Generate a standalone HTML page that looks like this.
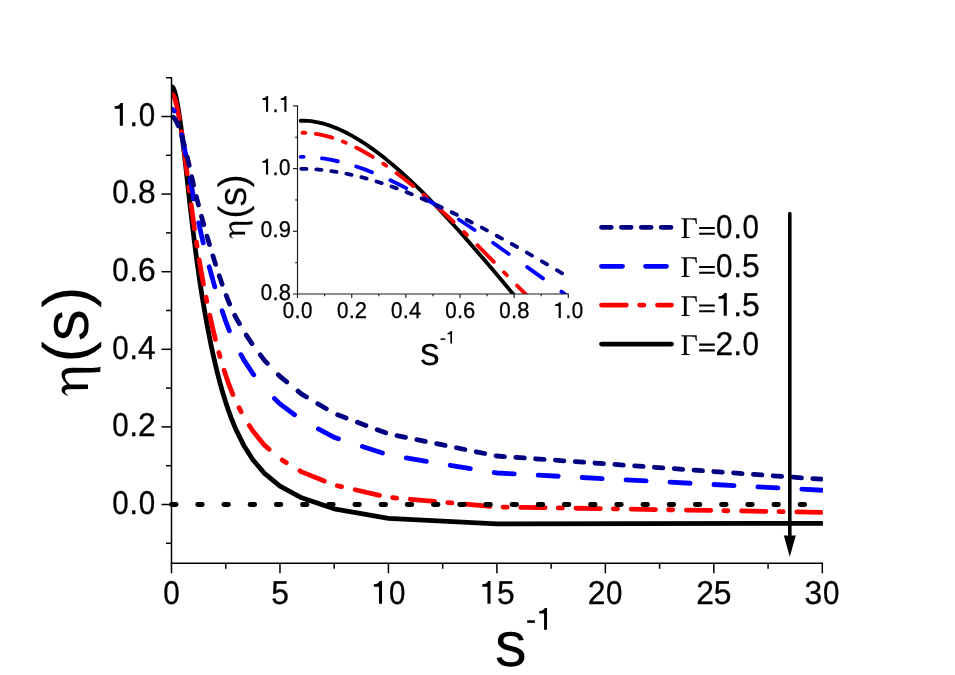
<!DOCTYPE html>
<html><head><meta charset="utf-8"><title>eta(s)</title>
<style>html,body{margin:0;padding:0;background:#fff;}svg{display:block;will-change:transform;}text{font-family:"Liberation Sans",sans-serif;fill:#000;text-rendering:geometricPrecision;}.d{stroke:#000;stroke-width:0.3px;}.ser{font-family:"Liberation Serif",serif;}</style></head><body>
<svg width="955" height="675" viewBox="0 0 955 675">
<rect x="0" y="0" width="955" height="675" fill="#ffffff"/>
<defs>
<clipPath id="cm"><rect x="171.50" y="77.70" width="651.40" height="485.58"/></clipPath>
<clipPath id="ci"><rect x="297.60" y="105.90" width="271.20" height="188.10"/></clipPath>
</defs>
<g clip-path="url(#cm)" fill="none" stroke-linecap="round" stroke-linejoin="round" stroke-width="4.80">
<path d="M171.75,86.89 L172.04,86.87 L172.58,87.17 L173.13,87.85 L173.67,88.89 L174.21,90.25 L174.75,91.92 L175.30,93.87 L176.38,98.54 L177.47,104.11 L178.55,110.48 L179.63,117.53 L181.26,129.21 L183.43,146.50 L185.60,165.25 L189.94,204.38 L192.11,222.94 L194.28,240.70 L196.45,257.49 L198.62,273.22 L200.24,284.30 L202.41,298.12 L204.58,310.96 L206.75,323.02 L208.92,334.41 L211.09,345.16 L213.26,355.27 L215.43,364.77 L217.60,373.68 L220.31,384.02 L223.02,393.55 L225.73,402.31 L228.44,410.37 L231.16,417.80 L233.87,424.63 L236.58,430.92 L243.81,445.41 L252.85,459.68 L264.47,473.40 L279.97,486.19 L301.66,497.79 L334.20,508.84 L388.43,518.47 L496.90,523.90 L830.98,523.30" stroke="#000000"/>
<path d="M172.29,94.43 L172.58,94.58 L173.13,95.16 L173.67,96.04 L174.21,97.20 L175.30,100.27 L176.38,104.24 L177.47,108.99 L178.55,114.43 L179.30,118.58 M181.44,131.68 L182.06,135.78 M184.00,149.48 L187.17,173.78 M188.83,186.88 L189.35,190.98 M191.15,204.68 L194.48,228.98 M196.40,242.08 L197.02,246.18 M199.20,259.88 L201.33,272.44 L203.45,284.18 M205.99,297.28 L206.81,301.38 M209.70,315.08 L212.72,328.40 L215.39,339.38 M218.84,352.48 L219.98,356.58 M224.10,370.28 L226.28,376.90 L228.44,383.07 L230.61,388.85 L232.92,394.58 M239.06,407.68 L241.17,411.78 M249.31,425.48 L252.85,431.01 L264.47,445.15 L269.10,449.22 M282.20,460.10 L286.30,462.58 M300.00,470.86 L301.66,471.87 L324.30,481.01 M337.40,485.73 L341.50,486.67 M355.20,489.78 L379.50,495.29 M392.60,497.69 L396.70,498.05 M410.40,499.27 L434.70,501.42 M447.80,502.58 L451.90,502.94 M465.60,504.15 L489.90,506.31 M503.00,507.03 L507.10,507.09 M520.80,507.32 L545.10,507.72 M558.20,507.94 L562.30,508.01 M576.00,508.23 L600.30,508.64 M613.40,508.85 L617.50,508.92 M631.20,509.15 L655.50,509.55 M668.60,509.77 L672.70,509.83 M686.40,510.06 L710.70,510.46 M723.80,510.68 L727.90,510.75 M741.60,510.97 L765.90,511.38 M779.00,511.59 L783.10,511.66 M796.80,511.89 L821.10,512.29" stroke="#ff0000"/>
<path d="M171.75,109.21 L172.04,109.22 L172.58,109.40 L173.13,109.78 L173.67,110.35 L174.20,111.08 M181.68,134.93 L183.43,143.09 L185.78,155.03 M190.16,178.88 L193.81,198.98 M198.70,222.83 L200.79,232.25 L203.26,242.93 M209.22,266.78 L211.63,275.71 L214.79,286.88 M222.11,310.73 L225.73,321.26 L227.36,325.66 L229.38,330.83 M240.93,354.68 L243.81,359.88 L252.85,373.66 L253.72,374.78 M274.45,398.47 L279.97,403.89 L294.55,414.74 M318.40,428.94 L334.20,437.35 L338.50,438.75 M362.35,446.52 L382.45,453.08 M406.30,457.99 L426.40,461.31 M450.25,465.26 L470.35,468.58 M494.20,472.53 L496.90,472.98 L514.30,473.90 M538.15,475.17 L558.25,476.24 M582.10,477.51 L602.20,478.58 M626.05,479.85 L646.15,480.92 M670.00,482.19 L690.10,483.26 M713.95,484.52 L734.05,485.59 M757.90,486.86 L778.00,487.93 M801.85,489.20 L821.95,490.27" stroke="#0000ff"/>
<path d="M173.46,117.35 L174.21,118.04 L174.75,118.70 L175.84,120.36 L176.92,122.44 L178.35,125.79 M182.07,137.09 L184.39,145.59 M187.19,156.89 L189.18,165.39 M191.70,176.69 L193.55,185.19 M196.29,196.49 L198.48,204.99 M201.48,216.29 L203.80,224.79 M206.99,236.09 L209.48,244.59 M212.93,255.89 L215.60,264.39 M219.25,275.69 L222.12,284.19 M226.21,295.49 L227.90,299.83 L229.62,303.99 M234.80,315.29 L236.58,318.77 L239.46,323.79 M246.28,335.09 L251.92,343.59 M260.32,354.89 L264.47,360.40 L267.36,363.39 M278.26,374.69 L279.97,376.46 L286.70,381.94 M298.00,391.14 L301.66,394.11 L306.50,397.00 M317.80,403.74 L326.30,408.80 M337.60,414.79 L346.10,417.98 M357.40,422.23 L365.90,425.42 M377.20,429.66 L385.70,432.86 M397.00,435.63 L405.50,437.36 M416.80,439.67 L425.30,441.40 M436.60,443.71 L445.10,445.44 M456.40,447.74 L464.90,449.48 M476.20,451.78 L484.70,453.51 M496.00,455.82 L496.90,456.00 L504.50,456.54 M515.80,457.35 L524.30,457.96 M535.60,458.77 L544.10,459.38 M555.40,460.19 L563.90,460.79 M575.20,461.60 L583.70,462.21 M595.00,463.02 L603.50,463.63 M614.80,464.43 L623.30,465.04 M634.60,465.85 L643.10,466.46 M654.40,467.27 L662.90,467.88 M674.20,468.68 L682.70,469.29 M694.00,470.10 L702.50,470.71 M713.80,471.52 L722.30,472.13 M733.60,472.93 L742.10,473.54 M753.40,474.35 L761.90,474.96 M773.20,475.77 L781.70,476.38 M793.00,477.18 L801.50,477.79 M812.80,478.60 L821.30,479.21" stroke="#000080"/>
</g>
<path d="M171.50,504.50 L811.45,504.50" stroke="#000" stroke-width="4.80" stroke-linecap="round" fill="none" stroke-dasharray="4.6 21.59"/>
<g stroke="#000" stroke-width="1.5" fill="none" stroke-linecap="butt">
<path d="M171.50,76.95 L171.50,564.03"/>
<path d="M170.75,563.28 L823.05,563.28"/>
<path d="M166.00,543.30 L171.50,543.30"/>
<path d="M161.50,504.50 L171.50,504.50"/>
<path d="M166.00,465.70 L171.50,465.70"/>
<path d="M161.50,426.90 L171.50,426.90"/>
<path d="M166.00,388.10 L171.50,388.10"/>
<path d="M161.50,349.30 L171.50,349.30"/>
<path d="M166.00,310.50 L171.50,310.50"/>
<path d="M161.50,271.70 L171.50,271.70"/>
<path d="M166.00,232.90 L171.50,232.90"/>
<path d="M161.50,194.10 L171.50,194.10"/>
<path d="M166.00,155.30 L171.50,155.30"/>
<path d="M161.50,116.50 L171.50,116.50"/>
<path d="M166.00,77.70 L171.50,77.70"/>
<path d="M171.50,563.28 L171.50,573.28"/>
<path d="M225.73,563.28 L225.73,568.78"/>
<path d="M279.97,563.28 L279.97,573.28"/>
<path d="M334.20,563.28 L334.20,568.78"/>
<path d="M388.43,563.28 L388.43,573.28"/>
<path d="M442.67,563.28 L442.67,568.78"/>
<path d="M496.90,563.28 L496.90,573.28"/>
<path d="M551.13,563.28 L551.13,568.78"/>
<path d="M605.37,563.28 L605.37,573.28"/>
<path d="M659.60,563.28 L659.60,568.78"/>
<path d="M713.83,563.28 L713.83,573.28"/>
<path d="M768.07,563.28 L768.07,568.78"/>
<path d="M822.30,563.28 L822.30,573.28"/>
</g>
<text class="d" transform="translate(112.22,513.80) scale(0.8942,1)" font-size="33.07">0</text><text class="d" transform="translate(129.28,513.80) scale(0.9615,1)" font-size="33.07">.</text><text class="d" transform="translate(138.74,513.80) scale(0.8942,1)" font-size="33.07">0</text>
<text class="d" transform="translate(112.22,436.20) scale(0.8942,1)" font-size="33.07">0</text><text class="d" transform="translate(129.28,436.20) scale(0.9615,1)" font-size="33.07">.2</text>
<text class="d" transform="translate(112.22,358.60) scale(0.8942,1)" font-size="33.07">0</text><text class="d" transform="translate(129.28,358.60) scale(0.9615,1)" font-size="33.07">.4</text>
<text class="d" transform="translate(112.22,281.00) scale(0.8942,1)" font-size="33.07">0</text><text class="d" transform="translate(129.28,281.00) scale(0.9615,1)" font-size="33.07">.6</text>
<text class="d" transform="translate(112.22,203.40) scale(0.8942,1)" font-size="33.07">0</text><text class="d" transform="translate(129.28,203.40) scale(0.9615,1)" font-size="33.07">.8</text>
<path transform="translate(111.60,125.80) scale(31.800)" d="M0.355,0 L0.258,0 L0.258,-0.539 L0.097,-0.539 L0.097,-0.612 Q0.18,-0.615 0.225,-0.65 Q0.265,-0.68 0.285,-0.716 L0.355,-0.716 Z"/><text class="d" transform="translate(129.28,125.80) scale(0.9615,1)" font-size="33.07">.</text><text class="d" transform="translate(138.74,125.80) scale(0.8942,1)" font-size="33.07">0</text>
<text class="d" transform="translate(163.28,603.80) scale(0.8942,1)" font-size="33.07">0</text>
<text class="d" transform="translate(271.13,603.80) scale(0.9615,1)" font-size="33.07">5</text>
<path transform="translate(370.75,603.80) scale(31.800)" d="M0.355,0 L0.258,0 L0.258,-0.539 L0.097,-0.539 L0.097,-0.612 Q0.18,-0.615 0.225,-0.65 Q0.265,-0.68 0.285,-0.716 L0.355,-0.716 Z"/><text class="d" transform="translate(389.05,603.80) scale(0.8942,1)" font-size="33.07">0</text>
<path transform="translate(479.22,603.80) scale(31.800)" d="M0.355,0 L0.258,0 L0.258,-0.539 L0.097,-0.539 L0.097,-0.612 Q0.18,-0.615 0.225,-0.65 Q0.265,-0.68 0.285,-0.716 L0.355,-0.716 Z"/><text class="d" transform="translate(496.90,603.80) scale(0.9615,1)" font-size="33.07">5</text>
<text class="d" transform="translate(587.69,603.80) scale(0.9615,1)" font-size="33.07">2</text><text class="d" transform="translate(605.99,603.80) scale(0.8942,1)" font-size="33.07">0</text>
<text class="d" transform="translate(696.15,603.80) scale(0.9615,1)" font-size="33.07">25</text>
<text class="d" transform="translate(804.62,603.80) scale(0.9615,1)" font-size="33.07">3</text><text class="d" transform="translate(822.92,603.80) scale(0.8942,1)" font-size="33.07">0</text>
<g transform="translate(88.0,395.7) rotate(-90)">
<path d="M28.85,12.57 L23.8,12.2 L23.1,3.7 L22.9,-16.3 C22.6,-21 21.5,-23 19.2,-23 C16.5,-23 13.5,-20.5 11.1,-18 L11.1,0 L6.6,0 L6.5,-20 C6.3,-22.3 5.2,-23.1 4,-23 C2.6,-22.8 1.2,-21 0.3,-19.4 L0,-19.7 C0.8,-22.8 2.5,-26.3 5.5,-26.4 C8.5,-26.4 10.6,-24 11.1,-20.8 C14,-24 17.5,-26.5 21,-26.5 C25.5,-26.5 27.8,-22.5 28,-15.6 L27.7,3.7 L28.3,9.6 Z" fill="#000"/>
<text x="33.2 54.5 88.0" y="0" font-size="64">(s)</text>
</g>
<text x="494.7" y="665.9" font-size="64">s</text>
<text class="d" transform="translate(526.10,629.80) scale(0.9615,1)" font-size="31.62">-</text><path transform="translate(536.22,629.80) scale(30.400)" d="M0.355,0 L0.258,0 L0.258,-0.539 L0.097,-0.539 L0.097,-0.612 Q0.18,-0.615 0.225,-0.65 Q0.265,-0.68 0.285,-0.716 L0.355,-0.716 Z"/>
<g clip-path="url(#ci)" fill="none" stroke-linecap="round" stroke-linejoin="round" stroke-width="3.84">
<path d="M300.71,120.74 L304.37,120.71 L311.14,121.20 L317.90,122.30 L324.67,123.98 L331.44,126.18 L338.21,128.88 L344.97,132.03 L351.74,135.61 L358.51,139.57 L365.28,143.91 L372.04,148.58 L378.81,153.57 L385.58,158.86 L392.35,164.43 L399.11,170.26 L405.88,176.33 L412.65,182.63 L419.42,189.14 L426.18,195.86 L432.95,202.76 L439.72,209.84 L446.49,217.08 L453.25,224.46 L460.02,231.99 L466.79,239.63 L480.32,255.22 L493.86,271.11 L514.16,295.17 L520.93,302.95 L534.46,318.19 L548.00,333.21 L561.53,347.92 L568.30,355.14 L581.84,369.30 L588.60,376.24 L595.37,383.07 L608.90,396.43 L615.67,402.95 L629.21,415.67 L635.98,421.86 L642.74,427.94 L649.51,433.91" stroke="#000000"/>
<path d="M302.45,132.76 L304.37,132.75 L305.35,132.81 M315.80,133.82 L317.90,134.11 L324.67,135.54 L331.44,137.41 L332.40,137.74 M342.85,141.54 L345.75,142.72 M356.20,147.64 L358.51,148.79 L365.28,152.48 L372.80,156.95 M383.25,163.70 L386.15,165.66 M396.60,173.16 L399.11,175.01 L405.88,180.22 L413.20,186.08 M423.65,194.83 L426.55,197.31 M437.00,206.57 L446.49,215.24 L453.60,221.94 M464.05,232.01 L466.95,234.84 M477.40,245.21 L493.80,261.81 M503.99,272.26 L506.81,275.16 M517.04,285.61 L533.63,302.05 M544.08,312.29 L546.98,315.13 M557.43,325.23 L568.30,335.62 L574.03,340.96 M584.48,350.53 L587.38,353.15 M597.83,362.44 L608.90,372.05 L614.43,376.74 M624.88,385.46 L627.78,387.85 M638.23,396.30 L649.51,405.21" stroke="#ff0000"/>
<path d="M300.71,156.81 L303.60,156.83 M322.00,158.30 L324.67,158.66 L331.44,159.87 L337.80,161.25 M356.20,166.47 L358.51,167.22 L365.28,169.63 L372.00,172.23 M390.40,180.29 L399.11,184.52 L406.20,188.16 M424.60,198.34 L432.95,203.24 L440.40,207.78 M458.80,219.49 L466.79,224.76 L474.60,230.03 M493.00,242.76 L508.80,253.96 M527.20,267.08 L543.00,278.37 M561.40,291.61 L568.30,296.58 L577.20,302.69 M595.60,314.85 L602.14,319.03 L611.40,324.83 M629.80,336.09 L645.60,345.51" stroke="#0000ff"/>
<path d="M301.26,168.84 L306.46,168.94 M316.30,169.44 L321.50,169.91 M331.34,171.08 L336.54,171.90 M346.38,173.70 L351.58,174.80 M361.42,177.20 L366.62,178.59 M376.46,181.48 L381.66,183.14 M391.50,186.49 L396.70,188.38 M406.54,192.14 L411.74,194.24 M421.58,198.37 L426.78,200.64 M436.62,205.10 L441.82,207.52 M451.66,212.25 L456.86,214.81 M466.70,219.76 L471.90,222.44 M481.74,227.60 L486.94,230.37 M496.78,235.70 L501.98,238.56 M511.82,244.04 L517.02,246.96 M526.86,252.57 L532.06,255.56 M541.90,261.29 L547.10,264.35 M556.94,270.20 L562.14,273.33 M571.98,279.15 L577.18,282.08 M587.02,287.47 L592.22,290.25 M602.06,295.40 L607.26,298.06 M617.10,303.03 L622.30,305.64 M632.14,310.55 L637.34,313.12 M647.18,317.97 L649.51,319.12" stroke="#000080"/>
</g>
<g stroke="#1a1a1a" stroke-width="1.15" fill="none">
<path d="M297.50,105.40 L297.50,294.50"/>
<path d="M293.00,294.00 L568.80,294.00" stroke-width="1.05"/>
<path d="M295.20,262.65 L297.60,262.65"/>
<path d="M293.00,231.30 L297.60,231.30"/>
<path d="M295.20,199.95 L297.60,199.95"/>
<path d="M293.00,168.60 L297.60,168.60"/>
<path d="M295.20,137.25 L297.60,137.25"/>
<path d="M293.00,105.90 L297.60,105.90"/>
<path d="M297.50,294.00 L297.50,298.00"/>
<path d="M324.67,294.00 L324.67,296.30"/>
<path d="M351.74,294.00 L351.74,298.00"/>
<path d="M378.81,294.00 L378.81,296.30"/>
<path d="M405.88,294.00 L405.88,298.00"/>
<path d="M432.95,294.00 L432.95,296.30"/>
<path d="M460.02,294.00 L460.02,298.00"/>
<path d="M487.09,294.00 L487.09,296.30"/>
<path d="M514.16,294.00 L514.16,298.00"/>
<path d="M541.23,294.00 L541.23,296.30"/>
<path d="M568.30,294.00 L568.30,298.00"/>
</g>
<text class="d" transform="translate(260.75,299.90) scale(0.8942,1)" font-size="22.88">0</text><text class="d" transform="translate(272.55,299.90) scale(0.9615,1)" font-size="22.88">.8</text>
<text class="d" transform="translate(260.75,237.20) scale(0.8942,1)" font-size="22.88">0</text><text class="d" transform="translate(272.55,237.20) scale(0.9615,1)" font-size="22.88">.9</text>
<path transform="translate(260.32,174.50) scale(22.000)" d="M0.355,0 L0.258,0 L0.258,-0.539 L0.097,-0.539 L0.097,-0.612 Q0.18,-0.615 0.225,-0.65 Q0.265,-0.68 0.285,-0.716 L0.355,-0.716 Z"/><text class="d" transform="translate(272.55,174.50) scale(0.9615,1)" font-size="22.88">.</text><text class="d" transform="translate(279.10,174.50) scale(0.8942,1)" font-size="22.88">0</text>
<path transform="translate(260.32,111.80) scale(22.000)" d="M0.355,0 L0.258,0 L0.258,-0.539 L0.097,-0.539 L0.097,-0.612 Q0.18,-0.615 0.225,-0.65 Q0.265,-0.68 0.285,-0.716 L0.355,-0.716 Z"/><text class="d" transform="translate(272.55,111.80) scale(0.9615,1)" font-size="22.88">.</text><path transform="translate(278.67,111.80) scale(22.000)" d="M0.355,0 L0.258,0 L0.258,-0.539 L0.097,-0.539 L0.097,-0.612 Q0.18,-0.615 0.225,-0.65 Q0.265,-0.68 0.285,-0.716 L0.355,-0.716 Z"/>
<text class="d" transform="translate(282.74,317.90) scale(0.8942,1)" font-size="22.88">0</text><text class="d" transform="translate(294.54,317.90) scale(0.9615,1)" font-size="22.88">.</text><text class="d" transform="translate(301.09,317.90) scale(0.8942,1)" font-size="22.88">0</text>
<text class="d" transform="translate(336.88,317.90) scale(0.8942,1)" font-size="22.88">0</text><text class="d" transform="translate(348.68,317.90) scale(0.9615,1)" font-size="22.88">.2</text>
<text class="d" transform="translate(391.02,317.90) scale(0.8942,1)" font-size="22.88">0</text><text class="d" transform="translate(402.82,317.90) scale(0.9615,1)" font-size="22.88">.4</text>
<text class="d" transform="translate(445.16,317.90) scale(0.8942,1)" font-size="22.88">0</text><text class="d" transform="translate(456.96,317.90) scale(0.9615,1)" font-size="22.88">.6</text>
<text class="d" transform="translate(499.30,317.90) scale(0.8942,1)" font-size="22.88">0</text><text class="d" transform="translate(511.10,317.90) scale(0.9615,1)" font-size="22.88">.8</text>
<path transform="translate(553.01,317.90) scale(22.000)" d="M0.355,0 L0.258,0 L0.258,-0.539 L0.097,-0.539 L0.097,-0.612 Q0.18,-0.615 0.225,-0.65 Q0.265,-0.68 0.285,-0.716 L0.355,-0.716 Z"/><text class="d" transform="translate(565.24,317.90) scale(0.9615,1)" font-size="22.88">.</text><text class="d" transform="translate(571.79,317.90) scale(0.8942,1)" font-size="22.88">0</text>
<g transform="translate(245.1,238.5) rotate(-90)">
<path d="M28.85,12.57 L23.8,12.2 L23.1,3.7 L22.9,-16.3 C22.6,-21 21.5,-23 19.2,-23 C16.5,-23 13.5,-20.5 11.1,-18 L11.1,0 L6.6,0 L6.5,-20 C6.3,-22.3 5.2,-23.1 4,-23 C2.6,-22.8 1.2,-21 0.3,-19.4 L0,-19.7 C0.8,-22.8 2.5,-26.3 5.5,-26.4 C8.5,-26.4 10.6,-24 11.1,-20.8 C14,-24 17.5,-26.5 21,-26.5 C25.5,-26.5 27.8,-22.5 28,-15.6 L27.7,3.7 L28.3,9.6 Z" fill="#000" transform="scale(0.6)"/>
<text x="19.8 32.0 51.0" y="0.6" font-size="39.5">(s)</text>
</g>
<text x="420" y="365.3" font-size="39.5">s</text>
<text class="d" transform="translate(440.00,343.60) scale(0.9615,1)" font-size="18.20">-</text><path transform="translate(445.83,343.60) scale(17.500)" d="M0.355,0 L0.258,0 L0.258,-0.539 L0.097,-0.539 L0.097,-0.612 Q0.18,-0.615 0.225,-0.65 Q0.265,-0.68 0.285,-0.716 L0.355,-0.716 Z"/>
<g fill="none" stroke-linecap="round" stroke-width="4.80">
<path d="M601.5,227.30 L671.5,227.30" stroke="#000080" stroke-dasharray="9.80 10.10"/>
<path d="M601.5,266.30 L671.5,266.30" stroke="#0000ff" stroke-dasharray="21.00 23.00"/>
<path d="M601.5,305.10 L671.5,305.10" stroke="#ff0000" stroke-dasharray="24.80 13.40 4.20 13.60"/>
<path d="M601.5,344.10 L671.5,344.10" stroke="#000000"/>
</g>
<text x="680.5" y="238.30" font-size="30" class="ser">Γ</text>
<path transform="translate(696.90,238.30) scale(31.800)" d="M0.07,-0.108 H0.562 V-0.178 H0.07 Z M0.07,-0.289 H0.562 V-0.359 H0.07 Z"/><text class="d" transform="translate(716.09,238.30) scale(0.8942,1)" font-size="33.07">0</text><text class="d" transform="translate(733.15,238.30) scale(0.9615,1)" font-size="33.07">.</text><text class="d" transform="translate(742.61,238.30) scale(0.8942,1)" font-size="33.07">0</text>
<text x="680.5" y="277.30" font-size="30" class="ser">Γ</text>
<path transform="translate(696.90,277.30) scale(31.800)" d="M0.07,-0.108 H0.562 V-0.178 H0.07 Z M0.07,-0.289 H0.562 V-0.359 H0.07 Z"/><text class="d" transform="translate(716.09,277.30) scale(0.8942,1)" font-size="33.07">0</text><text class="d" transform="translate(733.15,277.30) scale(0.9615,1)" font-size="33.07">.5</text>
<text x="680.5" y="315.80" font-size="30" class="ser">Γ</text>
<path transform="translate(696.90,315.80) scale(31.800)" d="M0.07,-0.108 H0.562 V-0.178 H0.07 Z M0.07,-0.289 H0.562 V-0.359 H0.07 Z"/><path transform="translate(715.47,315.80) scale(31.800)" d="M0.355,0 L0.258,0 L0.258,-0.539 L0.097,-0.539 L0.097,-0.612 Q0.18,-0.615 0.225,-0.65 Q0.265,-0.68 0.285,-0.716 L0.355,-0.716 Z"/><text class="d" transform="translate(733.15,315.80) scale(0.9615,1)" font-size="33.07">.5</text>
<text x="680.5" y="355.00" font-size="30" class="ser">Γ</text>
<path transform="translate(696.90,355.00) scale(31.800)" d="M0.07,-0.108 H0.562 V-0.178 H0.07 Z M0.07,-0.289 H0.562 V-0.359 H0.07 Z"/><text class="d" transform="translate(715.47,355.00) scale(0.9615,1)" font-size="33.07">2.</text><text class="d" transform="translate(742.61,355.00) scale(0.8942,1)" font-size="33.07">0</text>
<path d="M789.8,213.5 L789.8,540" stroke="#000" stroke-width="3.6" stroke-linecap="round" fill="none"/>
<path d="M783.8,535.6 L795.8,535.6 L789.8,556.7 Z" fill="#000"/>
</svg></body></html>
